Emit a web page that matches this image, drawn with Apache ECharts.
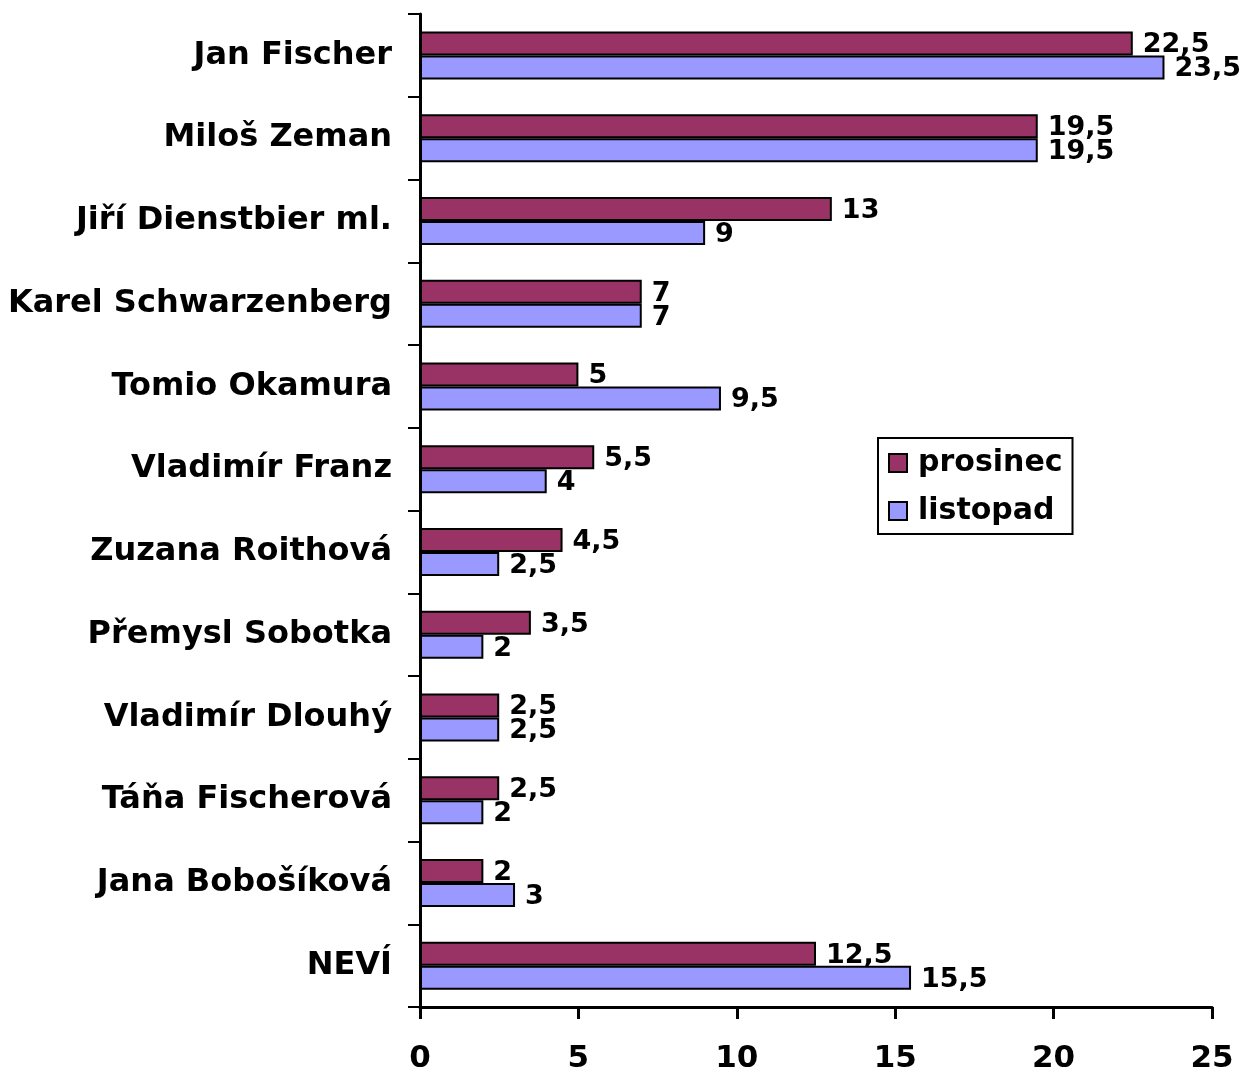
<!DOCTYPE html>
<html>
<head>
<meta charset="utf-8">
<script src="https://cdn.jsdelivr.net/npm/echarts@6/dist/echarts.min.js"></script>
<style>
  html, body { margin: 0; padding: 0; background: #fff; }
  #chart { width: 1242px; height: 1068px; }
</style>
</head>
<body>
<div id="chart"></div>
<script>
const candidates = [
  'Jan Fischer', 'Miloš Zeman', 'Jiří Dienstbier ml.', 'Karel Schwarzenberg',
  'Tomio Okamura', 'Vladimír Franz', 'Zuzana Roithová', 'Přemysl Sobotka',
  'Vladimír Dlouhý', 'Táňa Fischerová', 'Jana Bobošíková', 'NEVÍ'
]
const prosinec = [22.5, 19.5, 13, 7, 5, 5.5, 4.5, 3.5, 2.5, 2.5, 2, 12.5]
const listopad = [23.5, 19.5, 9, 7, 9.5, 4, 2.5, 2, 2.5, 2, 3, 15.5]
const xTicks = [0, 5, 10, 15, 20, 25]

const font = '"DejaVu Sans", Verdana, sans-serif'

function valueLabel() {
  return {
    show: true,
    position: 'right',
    distance: 10,
    offset: [0, 2],
    color: '#000',
    fontFamily: font,
    fontWeight: 'bold',
    fontSize: 27,
    formatter: (p) => String(p.value).replace('.', ','),
  }
}

const chart = echarts.init(document.getElementById('chart'))
chart.setOption({
  backgroundColor: '#fff',
  animation: false,
  grid: { left: 420, right: 30, top: 14, bottom: 61, containLabel: false, outerBoundsMode: 'none' },
  legend: {
    orient: 'vertical',
    left: 878,
    top: 438,
    padding: [10, 10, 8, 10],
    itemGap: 18,
    itemWidth: 18,
    itemHeight: 18,
    borderColor: '#000',
    borderWidth: 2,
    icon: 'rect',
    itemStyle: { borderColor: '#000', borderWidth: 2 },
    textStyle: {
      color: '#000',
      fontFamily: font,
      fontWeight: 'bold',
      fontSize: 30,
      padding: [0, 0, 0, 6],
    },
    data: ['prosinec', 'listopad'],
  },
  xAxis: {
    type: 'value',
    min: xTicks[0],
    max: xTicks[xTicks.length - 1],
    interval: 5,
    axisLine: { show: true, lineStyle: { color: '#000', width: 3 } },
    axisTick: { show: true, length: 12, lineStyle: { color: '#000', width: 3 } },
    splitLine: { show: false },
    axisLabel: {
      color: '#000',
      fontFamily: font,
      fontWeight: 'bold',
      fontSize: 31,
      margin: 36,
    },
  },
  yAxis: {
    type: 'category',
    inverse: true,
    data: candidates,
    axisLine: { show: true, lineStyle: { color: '#000', width: 3 } },
    axisTick: { show: true, length: 12, lineStyle: { color: '#000', width: 2 } },
    axisLabel: {
      color: '#000',
      fontFamily: font,
      fontWeight: 'bold',
      fontSize: 32,
      margin: 28,
    },
  },
  series: [
    {
      name: 'prosinec',
      type: 'bar',
      data: prosinec,
      barWidth: 24,
      barGap: '0%',
      itemStyle: { color: '#993366', borderColor: '#000', borderWidth: 2 },
      label: valueLabel(),
    },
    {
      name: 'listopad',
      type: 'bar',
      data: listopad,
      barWidth: 24,
      barGap: '0%',
      itemStyle: { color: '#9999ff', borderColor: '#000', borderWidth: 2 },
      label: valueLabel(),
    },
  ],
})
</script>
</body>
</html>
